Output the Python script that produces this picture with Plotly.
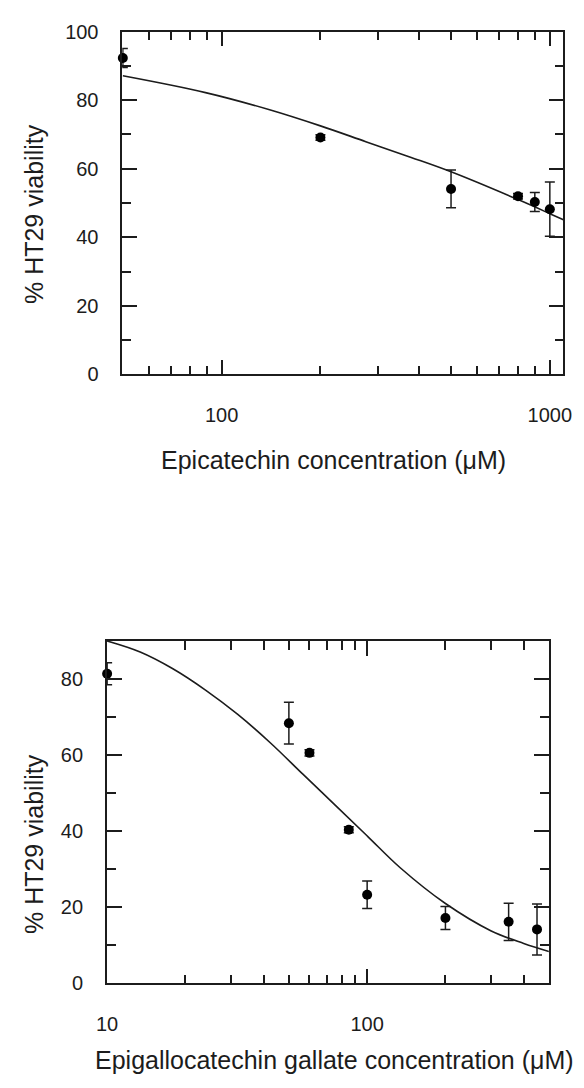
import math
import plotly.graph_objects as go

# ---------------- data ----------------
# Top panel: Epicatechin
EC_CONC = [50, 200, 500, 800, 900, 1000]
EC_VIAB = [92.3, 69.1, 54.1, 52.0, 50.3, 48.2]
EC_ERR = [2.8, 0.8, 5.5, 0.8, 2.8, 7.9]
EC_FIT_X = [50, 89.3, 140, 200, 275, 378, 500, 800, 1000, 1100]
EC_FIT_Y = [87.1, 82.2, 77.2, 72.5, 67.9, 63.3, 59.1, 51.0, 46.9, 45.1]

# Bottom panel: Epigallocatechin gallate
EGCG_CONC = [10, 50, 60, 85, 100, 200, 350, 450]
EGCG_VIAB = [81.4, 68.4, 60.6, 40.4, 23.3, 17.2, 16.2, 14.2]
EGCG_ERR = [2.9, 5.5, 0.8, 0.8, 3.6, 3.0, 4.9, 6.7]
EGCG_FIT_X = [10, 13.4, 17.9, 23.9, 31.8, 42.5, 56.6, 75.5, 100.6, 134, 200, 300, 400, 500]
EGCG_FIT_Y = [90.0, 87.1, 82.7, 77.1, 70.7, 63.2, 55.0, 46.8, 38.6, 30.4, 21.0, 13.8, 10.5, 8.4]

# Tick values / labels
TOP_X_MAJOR = [100, 1000]
TOP_X_LABELS = ["100", "1000"]
TOP_X_MINOR = [60, 70, 80, 90, 200, 300, 400, 500, 600, 700, 800, 900]
TOP_Y_MAJOR = [0, 20, 40, 60, 80, 100]
TOP_Y_MINOR = [10, 30, 50, 70, 90]
BOT_X_MAJOR = [10, 100]
BOT_X_LABELS = ["10", "100"]
BOT_X_MINOR = [20, 30, 40, 50, 60, 70, 80, 90, 200, 300, 400]
BOT_Y_MAJOR = [0, 20, 40, 60, 80]
BOT_Y_MINOR = [10, 30, 50, 70, 90]

TOP_XTITLE = "Epicatechin concentration (μM)"
BOT_XTITLE = "Epigallocatechin gallate concentration (μM)"
YTITLE = "% HT29 viability"

# ---------------- styling ----------------
W, H = 584, 1088
INK = "#1c1c1c"
FONT = "Liberation Sans, Arial, sans-serif"
TICK_FONT = dict(family=FONT, size=20, color=INK)
TITLE_FONT = dict(family=FONT, size=25, color=INK)


def px_x(p):
    return p / W


def px_y(p):
    return 1 - p / H


fig = go.Figure()

for xs, ys, errs, fx, fy, xa, ya in [
    (EC_CONC, EC_VIAB, EC_ERR, EC_FIT_X, EC_FIT_Y, "x", "y"),
    (EGCG_CONC, EGCG_VIAB, EGCG_ERR, EGCG_FIT_X, EGCG_FIT_Y, "x2", "y2"),
]:
    fig.add_trace(go.Scatter(
        x=fx, y=fy, mode="lines", xaxis=xa, yaxis=ya,
        line=dict(color=INK, width=1.6, shape="spline", smoothing=1.0),
        hoverinfo="skip", showlegend=False))
    fig.add_trace(go.Scatter(
        x=xs, y=ys, mode="markers", xaxis=xa, yaxis=ya,
        marker=dict(color="#000000", size=10),
        error_y=dict(type="data", array=errs, visible=True, width=5,
                     thickness=1.5, color=INK),
        cliponaxis=False, showlegend=False))


def axis_common():
    return dict(
        showline=True, linecolor=INK, linewidth=1.5, mirror="ticks",
        ticks="inside", ticklen=15, tickwidth=1.5, tickcolor=INK,
        showgrid=False, zeroline=False, tickfont=TICK_FONT, tickmode="array",
        fixedrange=True,
    )


def minor(vals):
    return dict(tickmode="array", tickvals=vals, ticks="inside", ticklen=9,
                tickwidth=1.5, tickcolor=INK, showgrid=False)


# panel geometry (pixels)
T_L, T_R, T_T, T_B = 115, 571, 21, 371
B_L, B_R, B_T, B_B = 99, 556, 643, 992.5

fig.update_layout(
    width=W, height=H, margin=dict(l=0, r=0, t=0, b=0),
    paper_bgcolor="white", plot_bgcolor="white", showlegend=False,
    xaxis=dict(axis_common(), type="log",
               range=[math.log10(49.8), math.log10(1100)],
               tickvals=TOP_X_MAJOR, ticktext=TOP_X_LABELS,
               minor=minor(TOP_X_MINOR), ticklabelstandoff=22,
               domain=[px_x(T_L), px_x(T_R)], anchor="y"),
    yaxis=dict(axis_common(), range=[0, 100],
               tickvals=TOP_Y_MAJOR, ticktext=[str(v) for v in TOP_Y_MAJOR],
               minor=minor(TOP_Y_MINOR), ticklabelstandoff=18,
               domain=[px_y(T_B), px_y(T_T)], anchor="x"),
    xaxis2=dict(axis_common(), type="log",
                range=[math.log10(9.97), math.log10(500)],
                tickvals=BOT_X_MAJOR, ticktext=BOT_X_LABELS,
                minor=minor(BOT_X_MINOR), ticklabelstandoff=22,
                domain=[px_x(B_L), px_x(B_R)], anchor="y2"),
    yaxis2=dict(axis_common(), range=[0, 90],
                tickvals=BOT_Y_MAJOR, ticktext=[str(v) for v in BOT_Y_MAJOR],
                minor=minor(BOT_Y_MINOR), ticklabelstandoff=18,
                domain=[px_y(B_B), px_y(B_T)], anchor="x2"),
)

annos = [
    dict(text=TOP_XTITLE, x=px_x(333), y=px_y(458), textangle=0),
    dict(text=BOT_XTITLE, x=px_x(334), y=px_y(1071), textangle=0),
    dict(text=YTITLE, x=px_x(24), y=px_y(207), textangle=-90),
    dict(text=YTITLE, x=px_x(24), y=px_y(850), textangle=-90),
]
for a in annos:
    fig.add_annotation(xref="paper", yref="paper", xanchor="center",
                       yanchor="middle", showarrow=False, font=TITLE_FONT, **a)

fig.write_html("out.html")
